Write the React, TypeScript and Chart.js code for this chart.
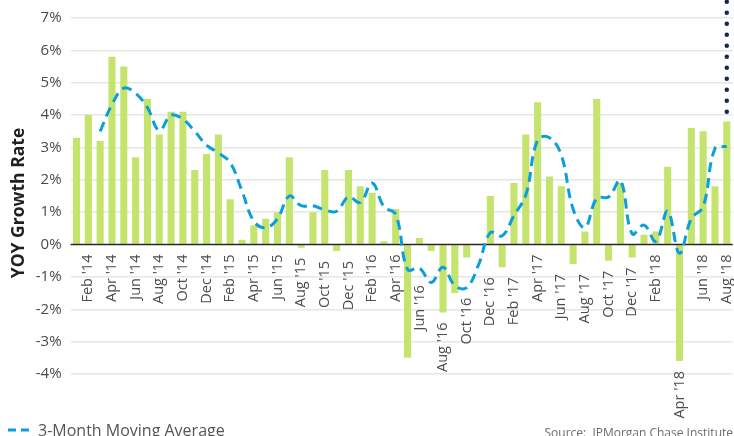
import React, { useEffect, useRef } from 'react';
import { Chart, registerables } from 'chart.js';

Chart.register(...registerables);

// ---------- data ----------
const categories = [
  "Jan '14", "Feb '14", "Mar '14", "Apr '14", "May '14", "Jun '14", "Jul '14", "Aug '14", "Sep '14", "Oct '14", "Nov '14", "Dec '14",
  "Jan '15", "Feb '15", "Mar '15", "Apr '15", "May '15", "Jun '15", "Jul '15", "Aug '15", "Sep '15", "Oct '15", "Nov '15", "Dec '15",
  "Jan '16", "Feb '16", "Mar '16", "Apr '16", "May '16", "Jun '16", "Jul '16", "Aug '16", "Sep '16", "Oct '16", "Nov '16", "Dec '16",
  "Jan '17", "Feb '17", "Mar '17", "Apr '17", "May '17", "Jun '17", "Jul '17", "Aug '17", "Sep '17", "Oct '17", "Nov '17", "Dec '17",
  "Jan '18", "Feb '18", "Mar '18", "Apr '18", "May '18", "Jun '18", "Jul '18", "Aug '18",
];

const tickLabels = [
  "Feb '14", "Apr '14", "Jun '14", "Aug '14", "Oct '14", "Dec '14",
  "Feb '15", "Apr '15", "Jun '15", "Aug '15", "Oct '15", "Dec '15",
  "Feb '16", "Apr '16", "Jun '16", "Aug '16", "Oct '16", "Dec '16",
  "Feb '17", "Apr '17", "Jun '17", "Aug '17", "Oct '17", "Dec '17",
  "Feb '18", "Apr '18", "Jun '18", "Aug '18",
];

const yoyGrowth = [
  3.3, 4.0, 3.2, 5.8, 5.5, 2.7, 4.5, 3.4, 4.1, 4.1, 2.3, 2.8,
  3.4, 1.4, 0.15, 0.6, 0.8, 1.0, 2.7, -0.1, 1.0, 2.3, -0.2, 2.3,
  1.8, 1.6, 0.1, 1.1, -3.5, 0.2, -0.2, -2.1, -1.5, -0.4, 0.0, 1.5,
  -0.7, 1.9, 3.4, 4.4, 2.1, 1.8, -0.6, 0.4, 4.5, -0.5, 1.9, -0.4,
  0.3, 0.4, 2.4, -3.6, 3.6, 3.5, 1.8, 3.8,
];

const movingAverage = [
  null, null, 3.5, 4.33, 4.83, 4.67, 4.23, 3.53, 4.0, 3.87, 3.5, 3.07,
  2.83, 2.53, 1.65, 0.72, 0.52, 0.8, 1.5, 1.2, 1.2, 1.07, 1.03, 1.47,
  1.3, 1.9, 1.17, 0.93, -0.77, -0.73, -1.17, -0.7, -1.27, -1.33, -0.63, 0.37,
  0.27, 0.9, 1.53, 3.23, 3.3, 2.77, 1.1, 0.53, 1.43, 1.47, 1.97, 0.33,
  0.6, 0.1, 1.03, -0.27, 0.8, 1.17, 2.97, 3.03,
];

const markerMonth = "Aug '18";
const markerRange = [4.1, 7.5];

const yMin = -4;
const yMax = 7;

// ---------- style ----------
const FONT = '"Open Sans", "Noto Sans", sans-serif';
const BAR_COLOR = '#c5e46e';
const MA_COLOR = '#0a9fdc';
const NAVY = '#14284b';

function maAt(t: number): number | null {
  const i0 = Math.floor(t);
  const i1 = Math.ceil(t);
  const a = movingAverage[i0];
  const b = movingAverage[i1];
  if (a == null || b == null) return a ?? b ?? null;
  return a + (b - a) * (t - i0);
}

function labelAnchor(i: number): number {
  let m = Math.min(0, yoyGrowth[i]);
  for (const d of [-0.5, 0, 0.5]) {
    const v = maAt(i + d);
    if (v != null) m = Math.min(m, v);
  }
  for (const j of [i - 1, i + 1]) {
    const b = yoyGrowth[j];
    if (b !== undefined && b < 0 && b > -1) m = Math.min(m, b);
  }
  return m;
}

const overlayPlugin = {
  id: 'overlay',
  afterDatasetDraw(chart: any, args: any) {
    if (args.index !== 0) return;
    const { ctx, chartArea } = chart;
    const y0 = chart.scales.y.getPixelForValue(0);
    ctx.save();
    ctx.strokeStyle = '#262626';
    ctx.lineWidth = 1.5;
    ctx.beginPath();
    ctx.moveTo(chartArea.left, y0);
    ctx.lineTo(chartArea.right, y0);
    ctx.stroke();
    ctx.restore();
  },
  afterDraw(chart: any) {
    const { ctx } = chart;
    const xs = chart.scales.x;
    const ys = chart.scales.y;
    ctx.save();

    // rotated month labels hanging below bars / line
    ctx.font = `14.5px ${FONT}`;
    ctx.fillStyle = '#4d4d4d';
    ctx.textAlign = 'right';
    ctx.textBaseline = 'middle';
    for (const lab of tickLabels) {
      const i = categories.indexOf(lab);
      const x = xs.getPixelForValue(i);
      const y = ys.getPixelForValue(labelAnchor(i)) + 10;
      ctx.save();
      ctx.translate(x, y);
      ctx.rotate(-Math.PI / 2);
      ctx.fillText(lab, 0, 0);
      ctx.restore();
    }

    // y-axis title
    ctx.save();
    ctx.translate(19, 203);
    ctx.rotate(-Math.PI / 2);
    ctx.font = `bold 17.5px ${FONT}`;
    ctx.fillStyle = '#1f1f1f';
    ctx.textAlign = 'center';
    ctx.textBaseline = 'middle';
    ctx.fillText('YOY Growth Rate', 0, 0);
    ctx.restore();

    // legend
    ctx.strokeStyle = MA_COLOR;
    ctx.lineWidth = 3;
    ctx.setLineDash([8, 5]);
    ctx.beginPath();
    ctx.moveTo(8, 430);
    ctx.lineTo(29, 430);
    ctx.stroke();
    ctx.setLineDash([]);
    ctx.font = `16px ${FONT}`;
    ctx.fillStyle = '#555555';
    ctx.textAlign = 'left';
    ctx.textBaseline = 'alphabetic';
    ctx.fillText('3-Month Moving Average', 38, 436);

    // source
    ctx.font = `12px ${FONT}`;
    ctx.fillStyle = '#6b6b6b';
    ctx.textAlign = 'right';
    ctx.fillText('Source:  JPMorgan Chase Institute', 733, 437);

    ctx.restore();
  },
};

export default function App() {
  const ref = useRef<HTMLCanvasElement>(null);
  useEffect(() => {
    document.body.style.margin = '0';
    const chart = new Chart(ref.current as HTMLCanvasElement, {
      type: 'bar',
      data: {
        labels: categories,
        datasets: [
          {
            type: 'bar',
            label: 'YOY Growth',
            data: yoyGrowth,
            backgroundColor: BAR_COLOR,
            barPercentage: 0.6,
            categoryPercentage: 1,
            order: 3,
          } as any,
          {
            type: 'line',
            label: '3-Month Moving Average',
            data: movingAverage,
            borderColor: MA_COLOR,
            borderWidth: 3,
            borderDash: [10, 6],
            tension: 0.4,
            pointRadius: 0,
            fill: false,
            order: 2,
          } as any,
          {
            type: 'line',
            label: 'marker',
            data: markerRange.map((v) => ({ x: markerMonth, y: v })),
            borderColor: NAVY,
            borderWidth: 4.5,
            borderDash: [0, 11],
            borderCapStyle: 'round',
            pointRadius: 0,
            clip: false,
            order: 1,
          } as any,
        ],
      },
      options: {
        responsive: false,
        animation: false,
        devicePixelRatio: 1,
        layout: { padding: { top: 16, right: 1.3, bottom: 62, left: 0 } },
        plugins: { legend: { display: false }, tooltip: { enabled: false } },
        scales: {
          x: { display: false },
          y: {
            min: yMin,
            max: yMax,
            afterFit: (s: any) => {
              s.width = 70.6;
            },
            border: { display: false },
            grid: {
              drawTicks: false,
              lineWidth: 1.5,
              color: (c: any) => (c.tick && c.tick.value === 0 ? 'rgba(0,0,0,0)' : '#e6e6e6'),
            },
            ticks: {
              stepSize: 1,
              padding: 9,
              color: '#4a4a4a',
              font: { family: FONT, size: 15 },
              callback: (v: any) => `${v}%`,
            },
          },
        },
      } as any,
      plugins: [overlayPlugin],
    });
    return () => chart.destroy();
  }, []);
  return (
    <div style={{ position: 'relative', width: 734, height: 436, overflow: 'hidden' }}>
      <canvas ref={ref} width={734} height={436} style={{ display: 'block', width: 734, height: 436 }} />
    </div>
  );
}
